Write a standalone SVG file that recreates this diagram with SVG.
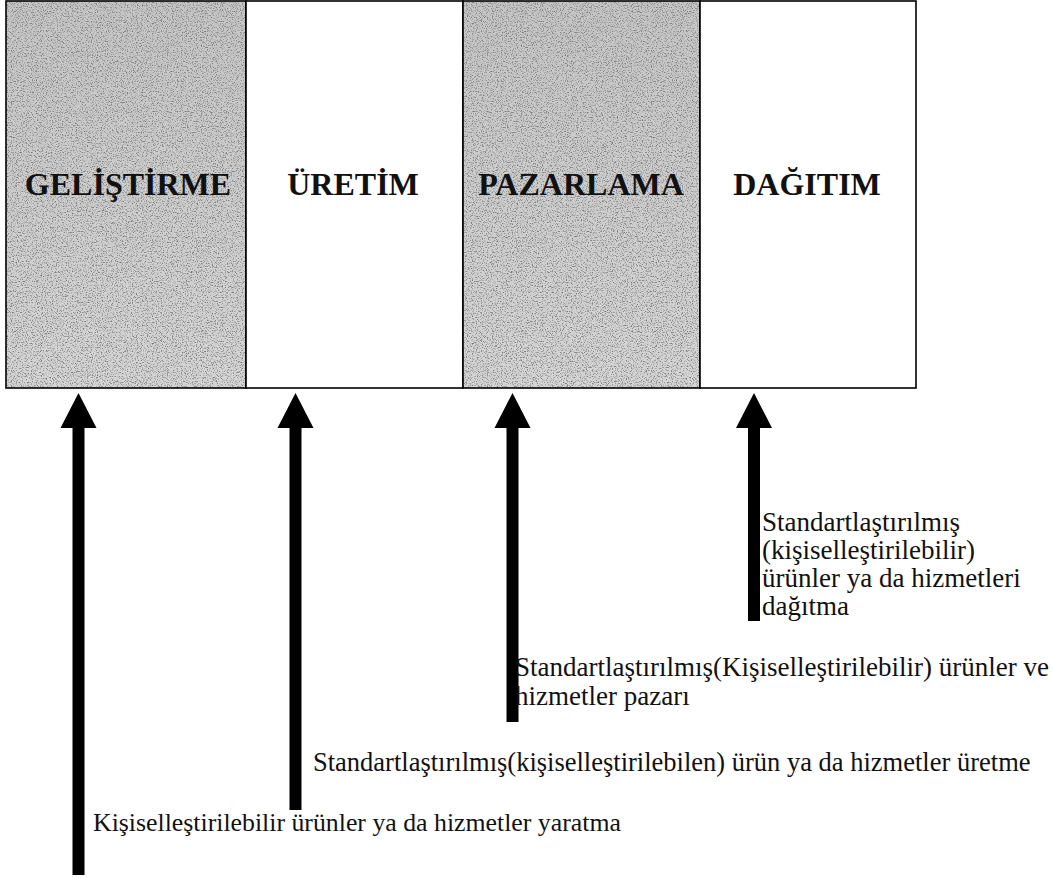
<svg xmlns="http://www.w3.org/2000/svg" width="1054" height="878" viewBox="0 0 1054 878">
  <defs>
    <style>
      .box { stroke: #000; stroke-width: 1.6; }
      .white { fill: #ffffff; }
      .grey { fill: url(#shade); }
      .title { font-family: "Liberation Serif", "Times New Roman", serif; font-weight: bold; font-size: 32px; fill: #111; text-anchor: middle; }
      .note { font-family: "Liberation Serif", "Times New Roman", serif; font-size: 27px; fill: #111; }
      .arrow { fill: #000; }
    </style>
    <linearGradient id="shade" x1="0" y1="0" x2="0" y2="1">
      <stop offset="0" stop-color="#c6c6c6"/>
      <stop offset="1" stop-color="#d6d6d6"/>
    </linearGradient>
    <!-- stipple texture for the shaded columns -->
    <filter id="grain" x="0" y="0" width="100%" height="100%" filterUnits="objectBoundingBox">
      <feTurbulence type="fractalNoise" baseFrequency="0.8" numOctaves="2" seed="7" result="noise"/>
      <feColorMatrix in="noise" type="matrix" values="0 0 0 0 0.2  0 0 0 0 0.2  0 0 0 0 0.2  -3.6 0 0 0 1.85"/>
    </filter>
  </defs>

  <rect width="1054" height="878" fill="#ffffff"/>

  <!-- column boxes -->
  <g id="gelistirme">
    <rect class="grey" x="6" y="1" width="240" height="387"/>
    <rect x="6" y="1" width="240" height="387" filter="url(#grain)"/>
    <rect class="box" x="6" y="1" width="240" height="387" fill="none"/>
    <text class="title" x="128" y="195">GELİŞTİRME</text>
  </g>
  <g id="uretim">
    <rect class="box white" x="246" y="1" width="217" height="387"/>
    <text class="title" x="353" y="195">ÜRETİM</text>
  </g>
  <g id="pazarlama">
    <rect class="grey" x="463" y="1" width="237" height="387"/>
    <rect x="463" y="1" width="237" height="387" filter="url(#grain)"/>
    <rect class="box" x="463" y="1" width="237" height="387" fill="none"/>
    <text class="title" x="581" y="195">PAZARLAMA</text>
  </g>
  <g id="dagitim">
    <rect class="box white" x="700" y="1" width="216" height="387"/>
    <text class="title" x="807" y="195">DAĞITIM</text>
  </g>

  <!-- upward arrows -->
  <g id="connectors">
    <path class="arrow" d="M78.5 393 L96.5 428 L84.5 428 L84.5 875 L72.5 875 L72.5 428 L60.5 428 Z"/>
    <path class="arrow" d="M295.5 393 L313.5 428 L301.5 428 L301.5 810 L289.5 810 L289.5 428 L277.5 428 Z"/>
    <path class="arrow" d="M512.5 393 L530.5 428 L518.5 428 L518.5 722 L506.5 722 L506.5 428 L494.5 428 Z"/>
    <path class="arrow" d="M754 393 L772 428 L760 428 L760 621 L748 621 L748 428 L736 428 Z"/>
  </g>

  <!-- arrow annotations -->
  <g id="label-gelistirme">
    <text class="note" x="93" y="831" style="font-size:25.8px">Kişiselleştirilebilir ürünler ya da hizmetler yaratma</text>
  </g>
  <g id="label-uretim">
    <text class="note" x="313" y="771" style="font-size:26.5px">Standartlaştırılmış(kişiselleştirilebilen) ürün ya da hizmetler üretme</text>
  </g>
  <g id="label-pazarlama">
    <text class="note" x="515" y="676">Standartlaştırılmış(Kişiselleştirilebilir) ürünler ve</text>
    <text class="note" x="515" y="705">hizmetler pazarı</text>
  </g>
  <g id="label-dagitim">
    <text class="note" x="762" y="531">Standartlaştırılmış</text>
    <text class="note" x="762" y="559">(kişiselleştirilebilir)</text>
    <text class="note" x="762" y="587">ürünler ya da hizmetleri</text>
    <text class="note" x="762" y="615">dağıtma</text>
  </g>
</svg>
